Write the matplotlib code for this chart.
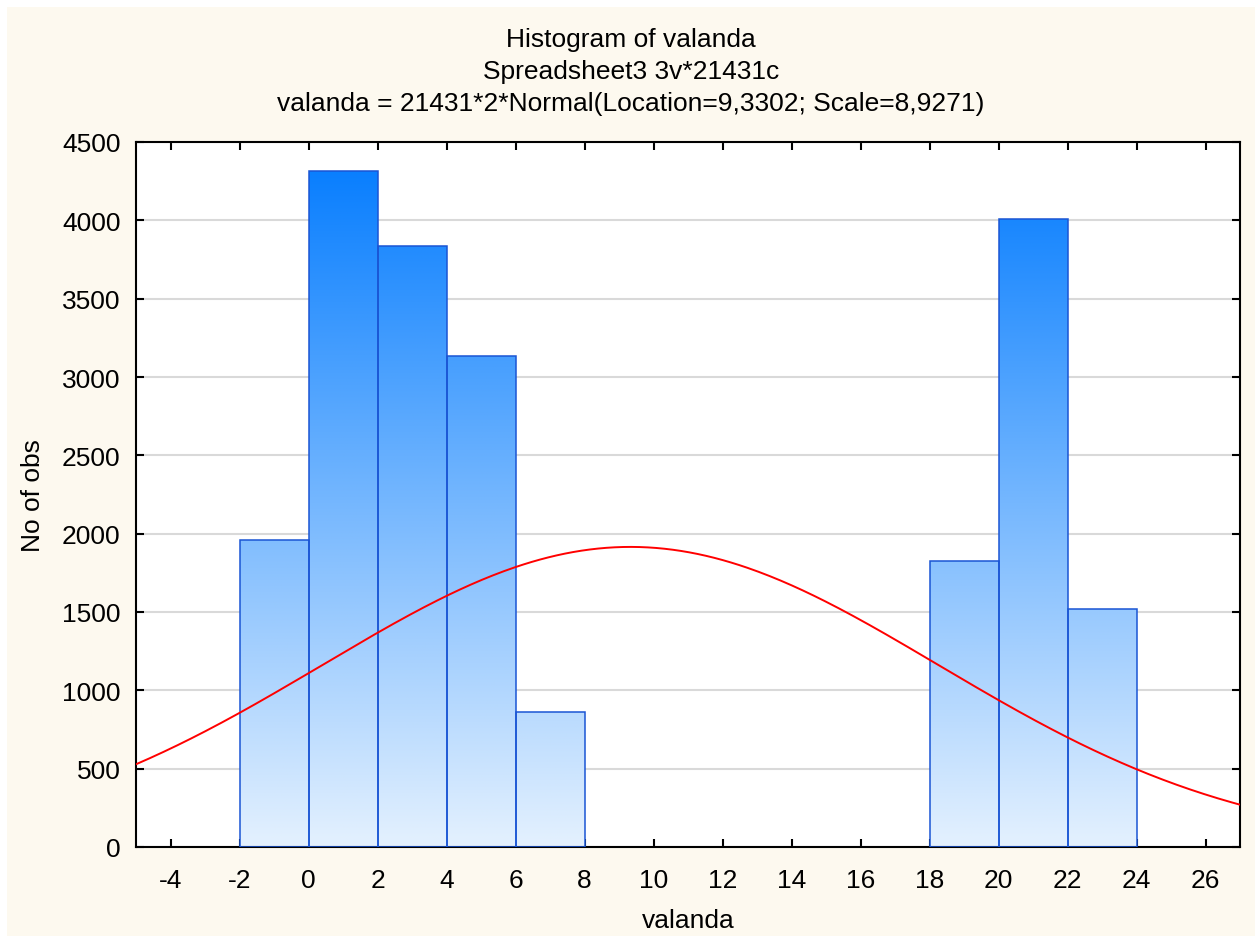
import numpy as np
import matplotlib
matplotlib.use("Agg")
from matplotlib import pyplot as plt
from matplotlib.colors import LinearSegmentedColormap
from matplotlib.patches import Rectangle

plt.rcParams['font.family'] = ['Liberation Sans', 'DejaVu Sans']
plt.rcParams['axes.unicode_minus'] = False

# histogram bins (left edges, width 2) and counts
bin_left = [-2, 0, 2, 4, 6, 18, 20, 22]
counts = [1958, 4312, 3833, 3132, 862, 1824, 4007, 1517]
bin_width = 2

# fitted normal from the title
n_obs = 21431
location = 9.3302
scale = 8.9271

x_ticks = list(range(-4, 27, 2))
y_ticks = list(range(0, 4501, 500))

fs = 19

fig = plt.figure(figsize=(12.55, 9.37), dpi=100)
fig.patch.set_facecolor('white')
fig.patches.append(Rectangle((7 / 1255, -0.1), 1.2, 1.1 - 8 / 937, transform=fig.transFigure,
                             facecolor='#fdf9ef', edgecolor='none', zorder=-10))

ax = fig.add_axes([136 / 1255, 89 / 937, 1104 / 1255, 705 / 937])
ax.set_facecolor('white')

cmap = LinearSegmentedColormap.from_list('bl', ['#e4f1fe', '#0a7ffe'])
grad = np.linspace(0, 1, 256).reshape(-1, 1)
top = max(counts)

bars = ax.bar(bin_left, counts, width=bin_width, align='edge',
              facecolor='none', edgecolor='#1a55d4', linewidth=1.1, zorder=3)
for b in bars:
    x0 = b.get_x()
    im = ax.imshow(grad, extent=[x0, x0 + bin_width, 0, top], origin='lower',
                   aspect='auto', cmap=cmap, zorder=2, interpolation='bilinear')
    im.set_clip_path(b)

xs = np.linspace(-5, 27, 400)
curve = 2 * n_obs / (scale * np.sqrt(2 * np.pi)) * np.exp(-0.5 * ((xs - location) / scale) ** 2)
ax.plot(xs, curve, color='#ff0000', linewidth=1.4, zorder=4)

ax.set_xlim(-5, 27)
ax.set_ylim(0, 4500)
ax.set_xticks(x_ticks)
ax.set_yticks(y_ticks)
ax.yaxis.grid(True, color='#d9d9d9', linewidth=1.5, zorder=0)
ax.set_axisbelow(True)
ax.tick_params(direction='in', top=True, right=True, length=6, width=1.5,
               labelsize=fs, colors='black')
ax.tick_params(axis='x', pad=15)
ax.tick_params(axis='y', pad=11)
for s in ax.spines.values():
    s.set_linewidth(1.5)
    s.set_color('black')

ax.set_xlabel('valanda', fontsize=fs, labelpad=12)
ax.set_ylabel('No of obs', fontsize=fs, labelpad=12)

cx = 631 / 1255
fig.text(cx, 1 - 40 / 937, 'Histogram of valanda', ha='center', va='center', fontsize=fs)
fig.text(cx, 1 - 72 / 937, 'Spreadsheet3 3v*21431c', ha='center', va='center', fontsize=fs)
fig.text(cx, 1 - 104 / 937, 'valanda = 21431*2*Normal(Location=9,3302; Scale=8,9271)',
         ha='center', va='center', fontsize=fs)

fig.savefig('out.png', dpi=100)
